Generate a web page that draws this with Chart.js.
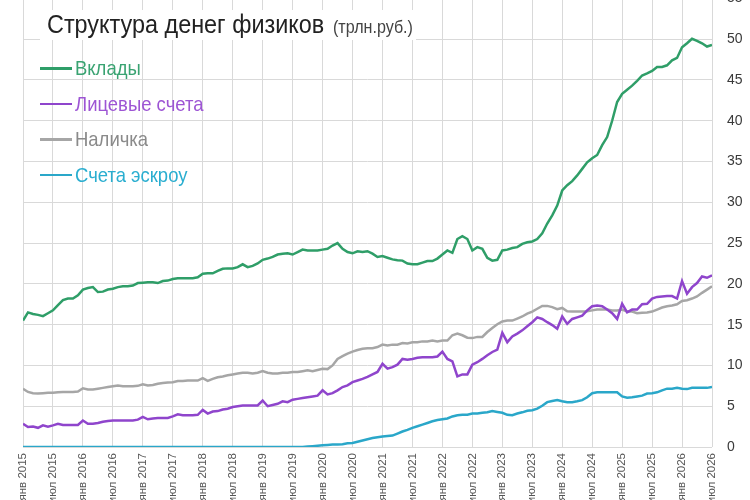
<!DOCTYPE html>
<html>
<head>
<meta charset="utf-8">
<script src="https://cdn.jsdelivr.net/npm/chart.js@4.4.1/dist/chart.umd.min.js"></script>
<style>
  html, body { margin:0; padding:0; width:750px; height:500px; overflow:hidden; background:#fff; }
  #wrap { position:absolute; left:0; top:-25px; width:750px; height:560px; }
  .nf { font-family:'Liberation Sans',Arial,sans-serif; }
  #title { position:absolute; left:40px; top:10px; width:376px; height:30px; background:#fff; white-space:nowrap; }
  #title .main { position:absolute; left:7px; top:-1px; font-size:26px; color:#222; transform:scaleX(0.9); transform-origin:0 0; }
  #title .unit { position:absolute; left:293px; top:7px; font-size:17.5px; color:#444; transform:scaleX(0.92); transform-origin:0 0; }
  #legend { position:absolute; left:40px; top:54px; }
  .row { position:relative; height:35.5px; white-space:nowrap; }
  .row .ln { position:absolute; left:0; top:13px; width:32px; height:2.5px; }
  .row .tx { position:absolute; left:35px; top:0; font-size:21px; line-height:28px; transform:scaleX(0.88); transform-origin:0 0; }
</style>
</head>
<body>
<div id="wrap"><canvas id="c"></canvas></div>
<div id="title" class="nf"><span class="main">Структура денег физиков</span><span class="unit">(трлн.руб.)</span></div>
<div id="legend" class="nf"></div>
<script>
// Tick labels (every 6 months)
const tickLabels = ['янв 2015','июл 2015','янв 2016','июл 2016','янв 2017','июл 2017','янв 2018','июл 2018',
  'янв 2019','июл 2019','янв 2020','июл 2020','янв 2021','июл 2021','янв 2022','июл 2022',
  'янв 2023','июл 2023','янв 2024','июл 2024','янв 2025','июл 2025','янв 2026','июл 2026'];
const monthNames = ['янв','фев','мар','апр','май','июн','июл','авг','сен','окт','ноя','дек'];
// Monthly categories Jan 2015 .. Jul 2026
const categories = [];
for (let y = 2015; y <= 2026; y++) {
  for (let m = 0; m < 12; m++) {
    if (y === 2026 && m > 6) break;
    categories.push(monthNames[m] + ' ' + y);
  }
}
const seriesNames = ['Вклады','Лицевые счета','Наличка','Счета эскроу'];
const deposits = [
  15.5,16.5,16.3,16.2,16.05,16.4,16.75,17.4,18.0,18.2,18.2,18.6,
  19.3,19.5,19.6,19.0,19.05,19.3,19.4,19.6,19.7,19.7,19.8,20.1,
  20.15,20.2,20.2,20.1,20.35,20.4,20.6,20.7,20.7,20.7,20.7,20.8,
  21.25,21.3,21.3,21.6,21.85,21.9,21.9,22.05,22.4,22.05,22.2,22.5,
  22.95,23.1,23.3,23.6,23.7,23.75,23.6,23.9,24.2,24.1,24.1,24.1,
  24.2,24.3,24.7,25.0,24.3,23.9,23.75,24.0,23.9,24.0,23.7,23.3,
  23.4,23.2,23.0,22.9,22.85,22.5,22.4,22.4,22.6,22.8,22.8,23.1,
  23.6,24.1,23.8,25.5,25.85,25.5,24.1,24.5,24.3,23.2,22.85,22.95,
  24.1,24.2,24.4,24.5,24.9,25.1,25.2,25.5,26.2,27.4,28.4,29.6,
  31.45,32.1,32.6,33.3,34.1,34.9,35.4,35.8,37.0,38.0,40.0,42.3,
  43.3,43.8,44.3,44.9,45.55,45.8,46.1,46.6,46.6,46.8,47.4,47.7,
  49.0,49.5,50.05,49.8,49.5,49.1,49.3];
const accounts = [
  2.85,2.45,2.5,2.35,2.65,2.5,2.65,2.85,2.7,2.7,2.7,2.7,
  3.25,2.85,2.85,2.95,3.1,3.2,3.25,3.25,3.25,3.25,3.25,3.35,
  3.7,3.4,3.5,3.55,3.55,3.55,3.75,4.0,3.9,3.9,3.9,3.95,
  4.55,4.1,4.35,4.4,4.6,4.7,4.9,5.0,5.1,5.1,5.1,5.1,
  5.7,5.0,5.15,5.3,5.6,5.5,5.8,5.9,6.0,6.1,6.2,6.3,
  6.95,6.45,6.6,6.95,7.35,7.55,7.95,8.15,8.35,8.6,8.9,9.2,
  10.2,9.6,9.8,10.1,10.8,10.7,10.8,10.95,11.0,11.0,11.0,11.1,
  11.7,10.8,10.5,8.65,8.9,8.9,10.1,10.4,10.8,11.25,11.65,11.95,
  14.0,12.85,13.55,13.9,14.3,14.8,15.3,15.9,15.7,15.3,14.95,14.5,
  16.0,15.1,15.7,15.9,16.1,16.75,17.25,17.35,17.25,16.85,16.4,15.7,
  17.55,16.5,16.85,16.85,17.5,17.55,18.2,18.4,18.45,18.5,18.5,18.2,
  20.35,18.8,19.6,20.1,20.9,20.75,21.05];
const cash = [
  7.15,6.75,6.6,6.55,6.6,6.65,6.65,6.7,6.75,6.75,6.75,6.8,
  7.2,7.05,7.05,7.15,7.25,7.35,7.45,7.55,7.45,7.45,7.45,7.5,
  7.7,7.55,7.6,7.75,7.85,7.9,7.95,8.1,8.1,8.15,8.15,8.15,
  8.45,8.1,8.35,8.55,8.65,8.8,8.9,9.0,9.1,9.1,9.0,9.1,
  9.3,9.1,9.0,9.0,9.1,9.1,9.2,9.2,9.3,9.4,9.3,9.45,
  9.6,9.55,10.0,10.8,11.15,11.45,11.7,11.9,12.05,12.1,12.1,12.25,
  12.55,12.45,12.55,12.55,12.75,12.7,12.85,12.85,12.95,12.95,13.05,12.95,
  13.05,13.05,13.7,13.9,13.7,13.4,13.35,13.5,13.5,14.1,14.6,15.05,
  15.4,15.5,15.5,15.75,16.0,16.35,16.6,16.95,17.3,17.3,17.15,16.9,
  17.05,16.65,16.6,16.6,16.6,16.65,16.75,16.85,16.85,16.85,16.75,16.75,
  16.85,16.6,16.6,16.4,16.45,16.5,16.6,16.85,17.1,17.25,17.35,17.5,
  17.9,18.0,18.2,18.45,18.9,19.3,19.7];
const escrow = [
  0,0,0,0,0,0,0,0,0,0,0,0,
  0,0,0,0,0,0,0,0,0,0,0,0,
  0,0,0,0,0,0,0,0,0,0,0,0,
  0,0,0,0,0,0,0,0,0,0,0,0,
  0,0,0,0,0,0,0,0,0,0.05,0.1,0.15,
  0.2,0.25,0.3,0.3,0.35,0.45,0.5,0.65,0.8,0.95,1.1,1.2,
  1.3,1.35,1.4,1.65,1.9,2.1,2.35,2.55,2.75,2.95,3.15,3.3,
  3.4,3.5,3.75,3.9,3.95,3.95,4.1,4.1,4.2,4.25,4.4,4.3,
  4.2,3.95,3.9,4.1,4.25,4.45,4.5,4.7,5.05,5.5,5.65,5.75,
  5.6,5.5,5.5,5.6,5.75,6.1,6.6,6.7,6.7,6.7,6.7,6.7,
  6.2,6.05,6.1,6.2,6.3,6.55,6.6,6.7,6.95,7.15,7.15,7.25,
  7.15,7.1,7.25,7.25,7.25,7.25,7.35];
const yTicks = [0,5,10,15,20,25,30,35,40,45,50,55];

const lineColors = ['#2f9e68','#8f45cc','#a6a6a6','#2aa7c9'];
const textColors = ['#3aa372','#9d55d4','#8a8a8a','#2aaed0'];
const seriesData = [deposits, accounts, cash, escrow];

// HTML legend
const leg = document.getElementById('legend');
seriesNames.forEach((n, i) => {
  const r = document.createElement('div'); r.className = 'row';
  r.innerHTML = '<span class="ln" style="background:' + lineColors[i] + '"></span><span class="tx" style="color:' + textColors[i] + '">' + n + '</span>';
  leg.appendChild(r);
});

const F = "'Liberation Sans',Arial,sans-serif";
new Chart(document.getElementById('c'), {
  type: 'line',
  data: {
    labels: categories,
    datasets: seriesNames.map((n, i) => ({
      label: n,
      data: seriesData[i].map((v, k) => ({ x: k, y: v })),
      borderColor: lineColors[i], backgroundColor: lineColors[i],
      borderWidth: 2.5, pointRadius: 0, tension: 0, fill: false
    }))
  },
  options: {
    responsive: true, maintainAspectRatio: false, animation: false,
    layout: { padding: { left: 23, top: 0, right: 0, bottom: 0 } },
    plugins: { legend: { display: false }, title: { display: false }, tooltip: { enabled: false } },
    scales: {
      x: {
        type: 'linear', min: 0, max: categories.length - 1,
        afterBuildTicks: s => { s.ticks = tickLabels.map((t, i) => ({ value: i * 6 })); },
        grid: { drawTicks: false, color: '#d9d9d9', lineWidth: 1 },
        border: { display: false },
        ticks: {
          autoSkip: false, maxRotation: 90, minRotation: 90, padding: 6,
          color: '#555', font: { family: F, size: 11.5 },
          callback: v => tickLabels[Math.round(v / 6)]
        },
        afterFit: s => { s.height = 88; }
      },
      y: {
        position: 'right', min: 0, max: 55,
        afterBuildTicks: s => { s.ticks = yTicks.map(v => ({ value: v })); },
        grid: { drawTicks: false, color: '#d9d9d9', lineWidth: 1 },
        border: { display: false },
        ticks: { padding: 15, color: '#3a3a3a', font: { family: F, size: 14 } },
        afterFit: s => { s.width = 38; }
      }
    }
  }
});
</script>
</body>
</html>
